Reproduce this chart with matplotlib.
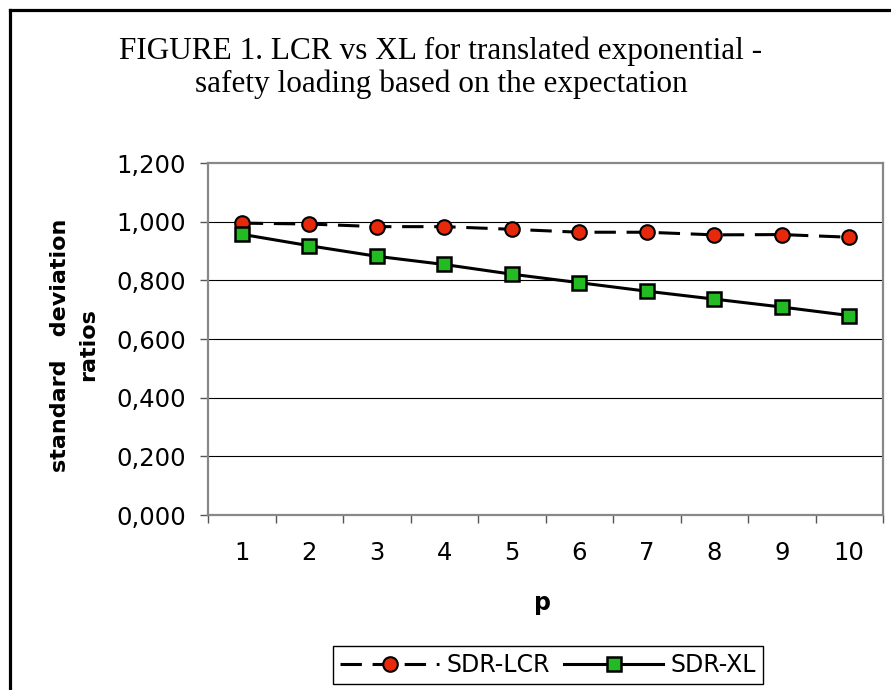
import numpy as np
import matplotlib
matplotlib.use('Agg')
import matplotlib.pyplot as plt
from matplotlib.lines import Line2D
from matplotlib.ticker import FixedLocator, FuncFormatter

p_values = [1, 2, 3, 4, 5, 6, 7, 8, 9, 10]
sdr_lcr = [0.995, 0.992, 0.983, 0.983, 0.974, 0.964, 0.964, 0.955, 0.956, 0.947]
sdr_xl = [0.957, 0.918, 0.882, 0.854, 0.821, 0.792, 0.763, 0.736, 0.709, 0.680]
y_ticks = [0.0, 0.2, 0.4, 0.6, 0.8, 1.0, 1.2]

title = 'FIGURE 1. LCR vs XL for translated exponential -\nsafety loading based on the expectation'

W, H = 891, 690
fig = plt.figure(figsize=(W / 100, H / 100), dpi=100)

# outer frame (left and top edges visible)
fig.add_artist(Line2D([9.5 / W, 9.5 / W], [0, 1 - 9.5 / H], transform=fig.transFigure,
                      color='black', lw=2.3, solid_capstyle='projecting'))
fig.add_artist(Line2D([9.5 / W, 1], [1 - 9.5 / H, 1 - 9.5 / H], transform=fig.transFigure,
                      color='black', lw=2.3, solid_capstyle='projecting'))

ax = fig.add_axes([208 / W, 1 - 515 / H, (883 - 208) / W, (515 - 163) / H])

ax.plot(p_values, sdr_lcr, color='black', lw=2.2, dashes=(7, 3.5),
        marker='o', markersize=10.5, markerfacecolor='#e8280a',
        markeredgecolor='black', markeredgewidth=1.5, label='SDR-LCR')
ax.plot(p_values, sdr_xl, color='black', lw=2.2,
        marker='s', markersize=10.5, markerfacecolor='#22bb22',
        markeredgecolor='black', markeredgewidth=1.8, label='SDR-XL')

ax.set_xlim(0.5, 10.5)
ax.set_ylim(0, 1.2)

ax.yaxis.set_major_locator(FixedLocator(y_ticks))
ax.yaxis.set_major_formatter(FuncFormatter(lambda v, pos: f'{v:.3f}'.replace('.', ',')))
for v in y_ticks[1:-1]:
    ax.axhline(v, color='black', lw=0.8, zorder=0.5)

# category ticks between categories, labels at centres
ax.xaxis.set_major_locator(FixedLocator(np.arange(0.5, 11, 1)))
ax.xaxis.set_major_formatter(FuncFormatter(lambda v, pos: ''))
ax.xaxis.set_minor_locator(FixedLocator(p_values))
ax.xaxis.set_minor_formatter(FuncFormatter(lambda v, pos: str(int(round(v)))))
ax.tick_params(axis='x', which='major', direction='out', length=6, width=1, color='#555555')
ax.tick_params(axis='x', which='minor', length=0, pad=19, labelsize=17.5)
ax.tick_params(axis='y', direction='out', length=6, width=1, color='#555555', pad=10, labelsize=17.5)

for s in ax.spines.values():
    s.set_color('#888888')
    s.set_linewidth(1.6)

fig.text(441 / W, 1 - 92 / H, title, ha='center', va='baseline',
         family='Liberation Serif', fontsize=22.5, linespacing=1.15)

fig.text(74 / W, 1 - 345 / H, 'standard   deviation\nratios', rotation=90,
         ha='center', va='center', fontsize=16, fontweight='bold',
         multialignment='center', linespacing=1.55)
fig.text(543 / W, 1 - 603 / H, 'p', ha='center', va='center', fontsize=17, fontweight='bold')

leg = fig.legend(loc='center', bbox_to_anchor=(548 / W, 1 - 665 / H), ncol=2,
                 fontsize=17, frameon=True, fancybox=False, framealpha=1,
                 edgecolor='black', handlelength=4.2, handletextpad=0.3,
                 columnspacing=0.6, borderpad=0.3)
leg.get_frame().set_linewidth(1.0)

fig.savefig('out.png', dpi=100)
